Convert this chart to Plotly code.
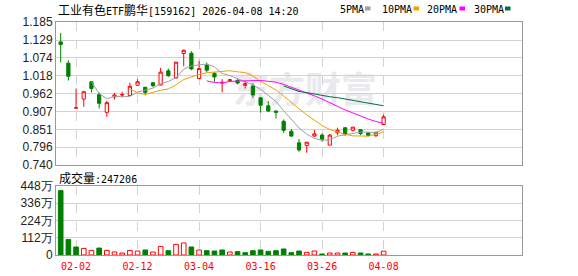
import pandas as pd
import plotly.graph_objects as go

# ---------------- data ----------------
dates = ["2026-01-29", "2026-01-30", "2026-02-02", "2026-02-03", "2026-02-04", "2026-02-05",
         "2026-02-06", "2026-02-09", "2026-02-10", "2026-02-11", "2026-02-12", "2026-02-13",
         "2026-02-24", "2026-02-25", "2026-02-26", "2026-02-27", "2026-03-02", "2026-03-03",
         "2026-03-04", "2026-03-05", "2026-03-06", "2026-03-09", "2026-03-10", "2026-03-11",
         "2026-03-12", "2026-03-13", "2026-03-16", "2026-03-17", "2026-03-18", "2026-03-19",
         "2026-03-20", "2026-03-23", "2026-03-24", "2026-03-25", "2026-03-26", "2026-03-27",
         "2026-03-30", "2026-03-31", "2026-04-01", "2026-04-02", "2026-04-03", "2026-04-07",
         "2026-04-08"]

opens = [1.123, 1.057, 0.917, 0.945, 0.999, 0.959, 0.904, 0.952, 0.958, 0.956, 0.988, 0.982,
         0.996, 0.989, 1.033, 1.011, 1.087, 1.088, 1.009, 1.051, 1.025, 0.995, 1.002, 1.003,
         0.988, 0.986, 0.949, 0.924, 0.908, 0.876, 0.845, 0.809, 0.801, 0.830, 0.833, 0.802,
         0.840, 0.856, 0.848, 0.850, 0.840, 0.831, 0.866]
highs = [1.151, 1.066, 0.978, 0.971, 1.000, 0.966, 0.940, 0.964, 0.968, 0.996, 1.007, 0.982,
         0.996, 1.042, 1.040, 1.061, 1.099, 1.094, 1.064, 1.059, 1.030, 1.007, 1.008, 1.007,
         1.001, 0.994, 0.951, 0.939, 0.909, 0.882, 0.852, 0.821, 0.811, 0.849, 0.838, 0.837,
         0.856, 0.856, 0.858, 0.852, 0.840, 0.843, 0.897]
lows = [1.059, 1.003, 0.916, 0.921, 0.966, 0.916, 0.890, 0.944, 0.951, 0.956, 0.988, 0.957,
        0.982, 0.988, 1.014, 1.009, 1.047, 1.035, 1.007, 1.028, 0.999, 0.966, 0.999, 0.991,
        0.978, 0.949, 0.903, 0.905, 0.885, 0.840, 0.828, 0.781, 0.778, 0.828, 0.812, 0.802,
        0.833, 0.831, 0.844, 0.833, 0.829, 0.828, 0.866]
closes = [1.115, 1.016, 0.918, 0.968, 0.978, 0.932, 0.934, 0.958, 0.959, 0.985, 0.999, 0.966,
          0.987, 1.029, 1.018, 1.060, 1.097, 1.039, 1.040, 1.035, 1.014, 0.997, 1.005, 0.995,
          0.993, 0.958, 0.926, 0.908, 0.904, 0.848, 0.830, 0.787, 0.811, 0.837, 0.820, 0.833,
          0.848, 0.835, 0.858, 0.838, 0.832, 0.842, 0.890]
# volume in 万 (10k shares)
volumes = [418, 100, 52, 43, 30, 45, 30, 19.5, 13, 30, 26, 32.5, 19.5, 56, 28, 69, 78, 52,
           32.5, 28, 26, 32.5, 19.5, 21.6, 15, 28, 32.5, 24, 28, 39, 15, 26, 17, 26, 6.5,
           13, 13, 13, 17, 13, 6.5, 6.5, 24.7206]

tick_dates = ["2026-02-02", "2026-02-12", "2026-03-04", "2026-03-16", "2026-03-26", "2026-04-08"]
tick_date_labels = ["02-02", "02-12", "03-04", "03-16", "03-26", "04-08"]
price_tick_labels = ["1.185", "1.129", "1.074", "1.018", "0.962", "0.907", "0.851", "0.796", "0.740"]
vol_tick_vals = [0, 112, 224, 336, 448]
vol_tick_labels = ["0", "112万", "224万", "336万", "448万"]
ma_periods = [5, 10, 20, 30]
ma_names = ["5PMA", "10PMA", "20PMA", "30PMA"]
last_volume_text = "247206"

# ---------------- styles ----------------
RED = "#ff0000"
GREEN = "#008000"
MA_COLORS = ["#a0a0a0", "#f0a000", "#ff00ff", "#00703c"]
GRID = "#d3d3d3"
FRAME = "#999999"
MONO = "DejaVu Sans Mono"
CJK = "Noto Sans CJK SC"

W, H = 578, 276
L, R, T, B = 56, 522, 22, 255


def px(x):
    return (x - L) / (R - L)


def py(y):
    return (B - y) / (B - T)


df = pd.DataFrame({"date": dates, "open": opens, "high": highs, "low": lows,
                   "close": closes, "vol": volumes})

fig = go.Figure()

fig.add_trace(go.Candlestick(
    x=df["date"], open=df["open"], high=df["high"], low=df["low"], close=df["close"],
    increasing=dict(line=dict(color=RED, width=1), fillcolor="white"),
    decreasing=dict(line=dict(color=GREEN, width=1), fillcolor=GREEN),
    whiskerwidth=0, xaxis="x", yaxis="y", showlegend=False, hoverinfo="skip"))

for n, col in zip(ma_periods, MA_COLORS):
    ma = df["close"].rolling(n).mean()
    fig.add_trace(go.Scatter(x=df["date"], y=ma, mode="lines",
                             line=dict(color=col, width=1), xaxis="x", yaxis="y",
                             showlegend=False, hoverinfo="skip"))

prev_close = [df["open"].iloc[0]] + list(df["close"].iloc[:-1])
up = [c > p for c, p in zip(df["close"], prev_close)]
fig.add_trace(go.Bar(
    x=df["date"], y=df["vol"], xaxis="x2", yaxis="y2", width=0.6,
    marker=dict(color=["white" if u else GREEN for u in up],
                line=dict(color=[RED if u else GREEN for u in up], width=1)),
    showlegend=False, hoverinfo="skip"))

xr = [-0.61, 60.0]
common_x = dict(type="category", categoryorder="array", categoryarray=dates,
                range=xr, tickmode="array", tickvals=tick_dates, ticktext=tick_date_labels,
                showgrid=True, gridcolor=GRID, griddash="dash", gridwidth=1,
                showline=True, linecolor=FRAME, linewidth=1, mirror=True,
                ticks="", zeroline=False, fixedrange=True, automargin=False)

fig.update_layout(
    width=W, height=H,
    margin=dict(l=L, r=W - R, t=T, b=H - B, pad=0, autoexpand=False),
    paper_bgcolor="white", plot_bgcolor="white",
    boxgap=0.4, bargap=0.4,
    showlegend=False,
    xaxis=dict(common_x, domain=[0, 1], anchor="y", showticklabels=False,
               rangeslider=dict(visible=False)),
    yaxis=dict(domain=[py(165), 1], range=[0.740, 1.185], tickmode="array",
               tickvals=[float(t) for t in price_tick_labels], ticktext=price_tick_labels,
               showgrid=True, gridcolor=GRID, showline=True, linecolor=FRAME, mirror=True,
               ticks="", zeroline=False, automargin=False,
               tickfont=dict(family="Liberation Sans", size=12, color="#222222")),
    xaxis2=dict(common_x, domain=[0, 1], anchor="y2", showticklabels=True,
                ticklabelstandoff=2,
                tickfont=dict(family=MONO, size=10, color=RED)),
    yaxis2=dict(domain=[0, py(186)], range=[0, 448], tickmode="array",
                tickvals=vol_tick_vals, ticktext=vol_tick_labels,
                showgrid=True, gridcolor=GRID, showline=True, linecolor=FRAME, mirror=True,
                ticks="", zeroline=False, automargin=False,
                tickfont=dict(family="Liberation Sans", size=12, color="#222222")),
)

cjk = lambda s: f"<span style='font-family:{CJK};font-size:12px'>{s}</span>"
title = cjk("工业有色") + "ETF" + cjk("鹏华") + "[159162] 2026-04-08 14:20"
fig.add_annotation(text=title, xref="paper", yref="paper", x=px(56), y=py(9.5),
                   xanchor="left", yanchor="middle", showarrow=False,
                   font=dict(family=MONO, size=10, color="#000000"))

fig.add_annotation(text=cjk("成交量") + ":" + last_volume_text, xref="paper", yref="paper",
                   x=px(57), y=py(177), xanchor="left", yanchor="middle", showarrow=False,
                   font=dict(family=MONO, size=10, color="#000000"))

legend_text_x = [338, 380, 425, 472]
legend_sq_x = [365, 413.5, 459.5, 505]
for name, col, tx, sx in zip(ma_names, MA_COLORS, legend_text_x, legend_sq_x):
    fig.add_annotation(text=name, xref="paper", yref="paper", x=px(tx), y=py(9.5),
                       xanchor="left", yanchor="middle", showarrow=False,
                       font=dict(family=MONO, size=10, color="#000000"))
    fig.add_shape(type="rect", xref="paper", yref="paper", x0=px(sx), x1=px(sx + 5.5),
                  y0=py(10.5), y1=py(6.5), line=dict(width=0), fillcolor=col)

# watermark
fig.add_shape(type="rect", xref="paper", yref="paper", x0=px(228), x1=px(382),
              y0=py(113), y1=py(73), line=dict(width=0), fillcolor="rgba(0,0,0,0)",
              layer="between",
              label=dict(text="东方财富", textposition="middle center",
                         font=dict(family=CJK, size=36, color="#e9e9ee", weight="bold")))

fig.write_html("out.html")
